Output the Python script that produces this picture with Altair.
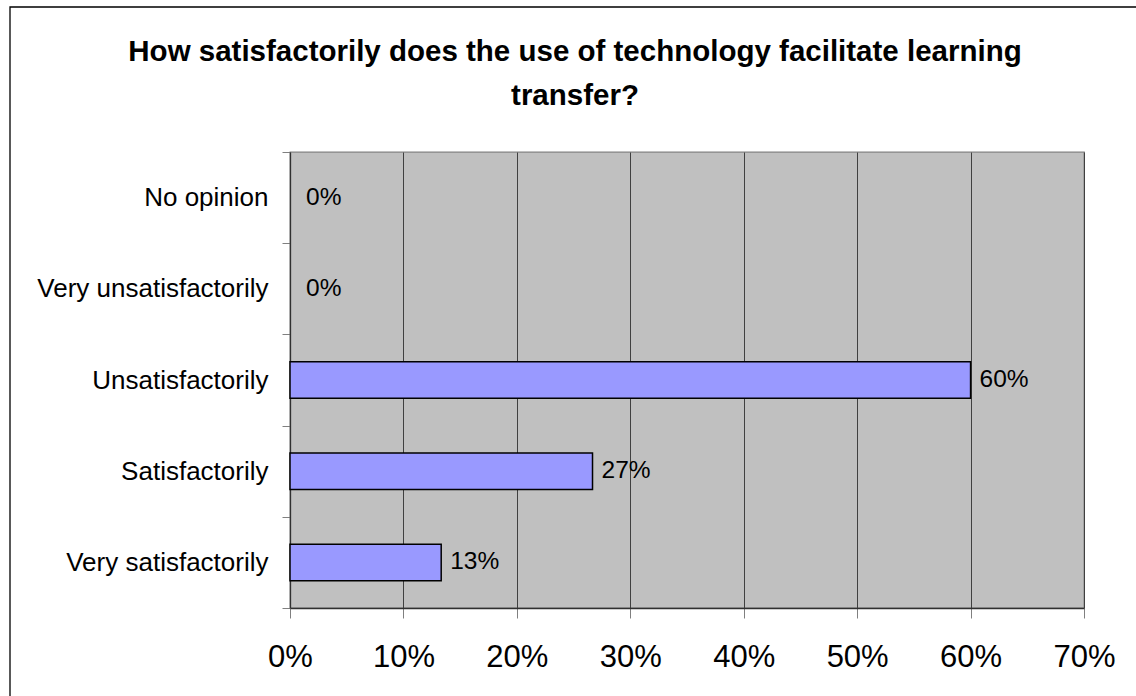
import altair as alt
import pandas as pd

categories = ["No opinion", "Very unsatisfactorily", "Unsatisfactorily", "Satisfactorily", "Very satisfactorily"]
shares = [0.0, 0.0, 0.60, 0.2667, 0.1333]
x_ticks = [0, 0.1, 0.2, 0.3, 0.4, 0.5, 0.6, 0.7]
title_lines = ["How satisfactorily does the use of technology facilitate learning", "transfer?"]

df = pd.DataFrame({"category": categories, "share": shares})
FONT = "Liberation Sans"

y_enc = alt.Y(
    "category:N",
    sort=categories,
    title=None,
    scale=alt.Scale(paddingInner=0, paddingOuter=0),
    axis=alt.Axis(
        tickBand="extent",
        tickSize=8,
        tickColor="#808080",
        domainColor="#303030",
        domainWidth=1.3,
        labelFont=FONT,
        labelFontSize=26,
        labelColor="black",
        labelPadding=14,
        labelLimit=0,
        grid=False,
    ),
)
x_enc = alt.X(
    "share:Q",
    title=None,
    scale=alt.Scale(domain=[0, 0.7], nice=False),
    axis=alt.Axis(
        values=x_ticks,
        format=".0%",
        grid=True,
        gridColor="#404040",
        gridWidth=1,
        tickSize=10,
        tickColor="#808080",
        domainColor="#303030",
        domainWidth=1.3,
        labelFont=FONT,
        labelFontSize=31,
        labelColor="black",
        labelPadding=24,
        labelFlush=False,
        labelOverlap=False,
    ),
)

base = alt.Chart(df)
bars = base.transform_filter("datum.share > 0").mark_bar(
    fill="#9999FF", stroke="black", strokeWidth=1.5, height=alt.RelativeBandSize(0.4)
).encode(x=x_enc, y=y_enc)
label_enc = dict(
    x="share:Q",
    y=alt.Y("category:N", sort=categories),
    text=alt.Text("share:Q", format=".0%"),
)
labels = base.transform_filter("datum.share > 0").mark_text(
    align="left", baseline="middle", dx=9, font=FONT, fontSize=24.5, color="black"
).encode(**label_enc)
zero_labels = base.transform_filter("datum.share == 0").mark_text(
    align="left", baseline="middle", dx=16, font=FONT, fontSize=24.5, color="black"
).encode(**label_enc)
frame = alt.Chart(pd.DataFrame({"k": [0]})).mark_rect(fill=None, stroke="black", strokeWidth=1.3).encode(
    x=alt.value(-280), x2=alt.value(870), y=alt.value(-145), y2=alt.value(560)
)

chart = (
    alt.layer(bars, labels, zero_labels, frame)
    .properties(
        width=794,
        height=456,
        autosize=alt.AutoSizeParams(type="none"),
        padding={"left": 290, "top": 152, "right": 52, "bottom": 88},
        title=alt.TitleParams(
            text=title_lines,
            font=FONT,
            fontSize=29.5,
            fontWeight="bold",
            color="black",
            lineHeight=44,
            anchor="middle",
            dx=-112,
            offset=-105,
        ),
    )
    .configure(background="white", view=alt.ViewConfig(fill="#C0C0C0", stroke="#808080", strokeWidth=1.3))
)

chart.save("out.html", embed_options={"renderer": "svg", "actions": False})
